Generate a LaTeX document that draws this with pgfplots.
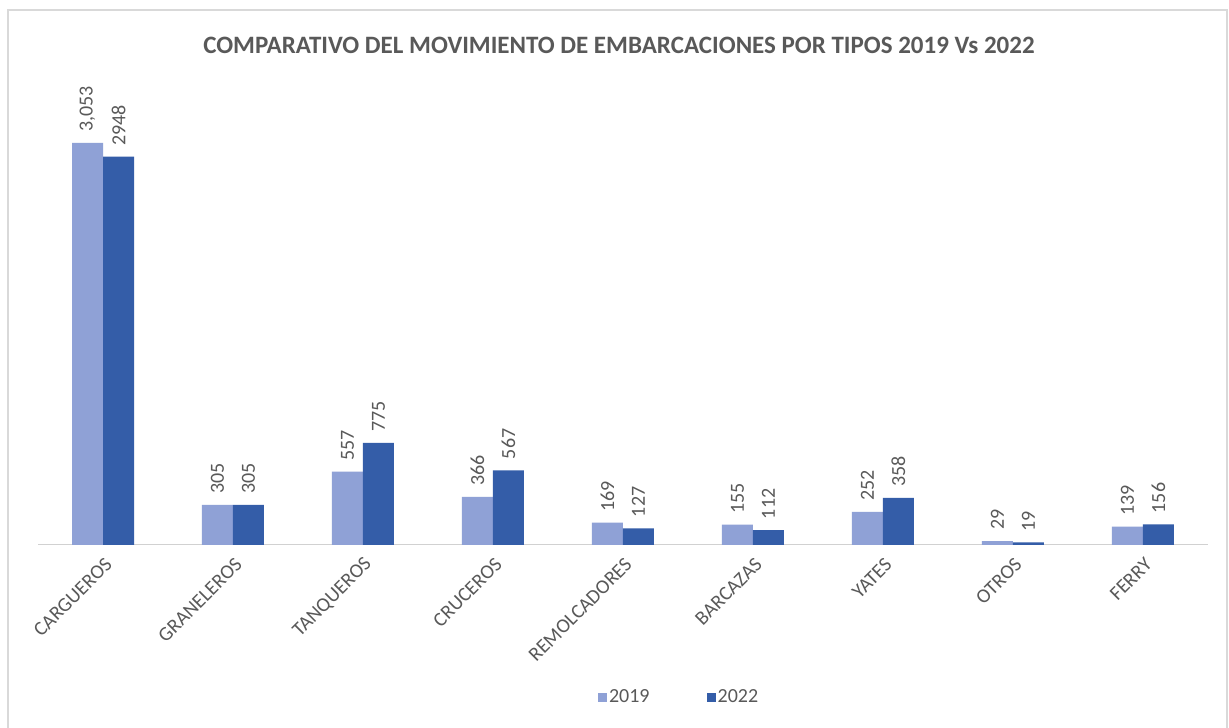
\documentclass[border=0pt]{standalone}
\usepackage{pgfplots}
\pgfplotsset{compat=1.18}
\usepackage{pgfplotstable}
\usepackage{fontspec}
\setmainfont{Carlito}

\definecolor{c19}{HTML}{8FA1D6}
\definecolor{c22}{HTML}{345DA8}
\definecolor{txt}{HTML}{595959}

% x  2019  label  2022  label
\pgfplotstableread{
x y19 l19 y22 l22
0 3053 3,053 2948 2948
1 305 305 305 305
2 557 557 775 775
3 366 366 567 567
4 169 169 127 127
5 155 155 112 112
6 252 252 358 358
7 29 29 19 19
8 139 139 156 156
}\datos

\begin{document}
\begin{tikzpicture}[x=1pt,y=1pt]
\useasboundingbox (0,0) rectangle (1229,728);
\fill[white] (0,0) rectangle (1229,728);
\draw[black!15, line width=1.5pt] (8,-20) rectangle (1227,718);
\node[font=\fontsize{25}{30}\selectfont\bfseries, text=txt] at (619,683)
  {COMPARATIVO DEL MOVIMIENTO DE EMBARCACIONES POR TIPOS 2019 Vs 2022};
\begin{axis}[
    at={(103pt,183pt)}, anchor=origin,
    scale only axis,
    width=1170pt, height=461pt,
    xmin=-0.5, xmax=8.5,
    ymin=0, ymax=3500,
    ybar=0pt, bar width=31pt,
    axis y line=none,
    axis x line*=bottom,
    x axis line style={draw=black!18, line width=1pt},
    xtick={0,...,8},
    xticklabels={CARGUEROS, GRANELEROS, TANQUEROS, CRUCEROS, REMOLCADORES, BARCAZAS, YATES, OTROS, FERRY},
    major tick length=0pt,
    xticklabel style={xshift=8pt, yshift=-14pt, rotate=45, anchor=east, text=txt,
        font=\fontsize{20}{24}\selectfont},
    nodes near coords,
    point meta=explicit symbolic,
    nodes near coords style={rotate=90, anchor=west, text=txt,
        font=\fontsize{20}{24}\selectfont, inner xsep=11pt, inner ysep=2pt},
    legend style={at={(0.548,-0.33)}, anchor=center, draw=none, fill=none,
        legend columns=2, text=txt, font=\fontsize{20}{24}\selectfont,
        /tikz/every even column/.append style={column sep=55pt}},
    legend image code/.code={\fill[#1] (0pt,-4.5pt) rectangle (9pt,4.5pt);},
]
\addplot[fill=c19, draw=none] table[x=x, y=y19, meta=l19] {\datos};
\addplot[fill=c22, draw=none] table[x=x, y=y22, meta=l22] {\datos};
\legend{2019, 2022}
\end{axis}
\end{tikzpicture}
\end{document}
